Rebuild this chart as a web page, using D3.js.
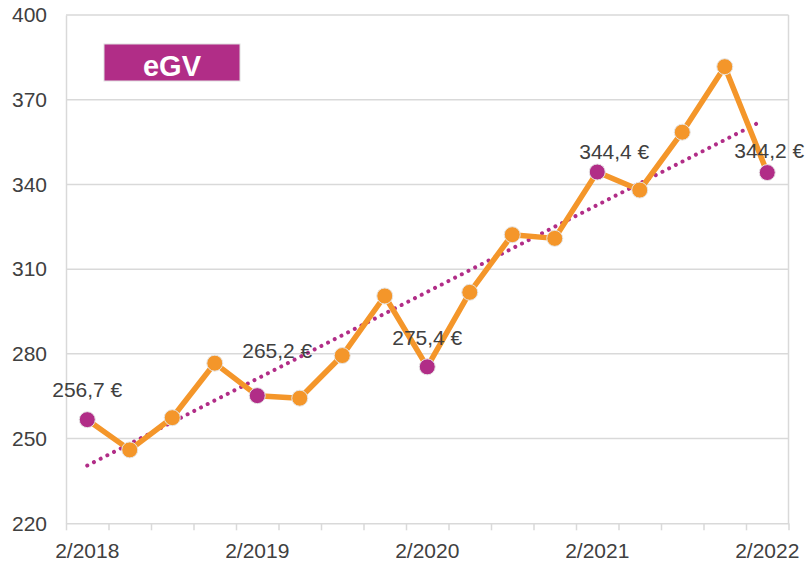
<!DOCTYPE html>
<html>
<head>
<meta charset="utf-8">
<script src="https://cdn.jsdelivr.net/npm/d3@7/dist/d3.min.js"></script>
<style>
  html, body { margin: 0; padding: 0; background: #fff; }
  svg { display: block; }
  text { font-family: "Liberation Sans", Arial, sans-serif; }
</style>
</head>
<body>
<svg id="chart" width="805" height="561"></svg>
<script>
// ---- data ----
const categories = ["2/2018","5/2018","8/2018","11/2018","2/2019","5/2019","8/2019","11/2019",
                    "2/2020","5/2020","8/2020","11/2020","2/2021","5/2021","8/2021","11/2021","2/2022"];
const values = [256.7, 246.0, 257.4, 276.7, 265.2, 264.3, 279.4, 300.5,
                275.4, 301.8, 322.2, 320.9, 344.4, 338.0, 358.5, 381.7, 344.2];
const highlightIdx = [0, 4, 8, 12, 16];
const tickLabels = ["2/2018","2/2019","2/2020","2/2021","2/2022"];
const yTicks = [220, 250, 280, 310, 340, 370, 400];
const seriesName = "eGV";

// ---- layout ----
const plotL = 66, plotR = 788.5, plotT = 15, plotB = 523.3;
const orange = "#F4962A", magenta = "#B12D87", grid = "#D9D9D9", txt = "#404040";
const labelOffsets = { 0: [0, -23], 4: [20, -38], 8: [0, -22], 12: [17, -13], 16: [2, -15] };

const svg = d3.select("#chart");
const x = d3.scaleLinear().domain([-0.5, categories.length - 0.5]).range([plotL, plotR]);
const y = d3.scaleLinear().domain([220, 400]).range([plotB, plotT]);

// gridlines
svg.append("g").selectAll("line").data(yTicks.filter(v => v > 220)).join("line")
  .attr("x1", plotL).attr("x2", plotR)
  .attr("y1", d => y(d)).attr("y2", d => y(d))
  .attr("stroke", grid).attr("stroke-width", 1.5);
// right border
svg.append("line").attr("x1", plotR).attr("x2", plotR).attr("y1", plotT).attr("y2", plotB)
  .attr("stroke", grid).attr("stroke-width", 1.5);

// y axis
const yAxis = svg.append("g").attr("transform", `translate(${plotL},0)`)
  .call(d3.axisLeft(y).tickValues(yTicks).tickSize(0).tickPadding(19));
yAxis.select(".domain").attr("stroke", grid).attr("stroke-width", 1.5);
yAxis.selectAll("text").attr("font-size", 21).attr("fill", txt)
  .attr("font-family", "Liberation Sans, Arial, sans-serif");

// x axis ticks
const xAxis = svg.append("g").attr("transform", `translate(0,${plotB})`)
  .call(d3.axisBottom(x).tickValues(d3.range(categories.length + 1).map(i => i - 0.5))
    .tickFormat("").tickSize(7).tickSizeOuter(0));
xAxis.select(".domain").attr("stroke", grid).attr("stroke-width", 1.5);
xAxis.selectAll(".tick line").attr("stroke", grid).attr("stroke-width", 1.5);

// x labels
svg.append("g").selectAll("text").data(tickLabels).join("text")
  .attr("x", d => x(categories.indexOf(d)))
  .attr("y", 558)
  .attr("text-anchor", "middle")
  .attr("font-size", 21).attr("fill", txt)
  .text(d => d);

// trendline (least squares)
const n = values.length;
const mx = d3.mean(d3.range(n)), my = d3.mean(values);
const slope = d3.sum(values, (v, i) => (i - mx) * (v - my)) / d3.sum(d3.range(n), i => (i - mx) ** 2);
const icpt = my - slope * mx;
svg.append("line")
  .attr("x1", x(0)).attr("y1", y(icpt))
  .attr("x2", x(n - 1.15)).attr("y2", y(icpt + slope * (n - 1.15)))
  .attr("stroke", magenta).attr("stroke-width", 4)
  .attr("stroke-linecap", "round").attr("stroke-dasharray", "0.01 7.5");

// line
svg.append("path").datum(values)
  .attr("d", d3.line().x((d, i) => x(i)).y(d => y(d)))
  .attr("fill", "none").attr("stroke", orange).attr("stroke-width", 5.5)
  .attr("stroke-linejoin", "round");

// markers
svg.append("g").selectAll("circle").data(values).join("circle")
  .attr("cx", (d, i) => x(i)).attr("cy", d => y(d))
  .attr("r", 8)
  .attr("fill", (d, i) => highlightIdx.includes(i) ? magenta : orange)
  .attr("stroke", "#E6E6E6").attr("stroke-width", 1);

// value labels
const fmt = v => d3.format(".1f")(v).replace(".", ",") + " €";
svg.append("g").selectAll("text").data(highlightIdx).join("text")
  .attr("x", i => x(i) + labelOffsets[i][0])
  .attr("y", i => y(values[i]) + labelOffsets[i][1])
  .attr("text-anchor", "middle")
  .attr("font-size", 21).attr("fill", txt)
  .text(i => fmt(values[i]));

// legend
svg.append("rect").attr("x", 104).attr("y", 44).attr("width", 136).attr("height", 37)
  .attr("fill", magenta).attr("stroke", "#E0E0E0").attr("stroke-width", 1);
svg.append("text").attr("x", 172).attr("y", 76).attr("text-anchor", "middle")
  .attr("font-size", 29).attr("font-weight", "bold").attr("fill", "#fff")
  .text(seriesName);
</script>
</body>
</html>
